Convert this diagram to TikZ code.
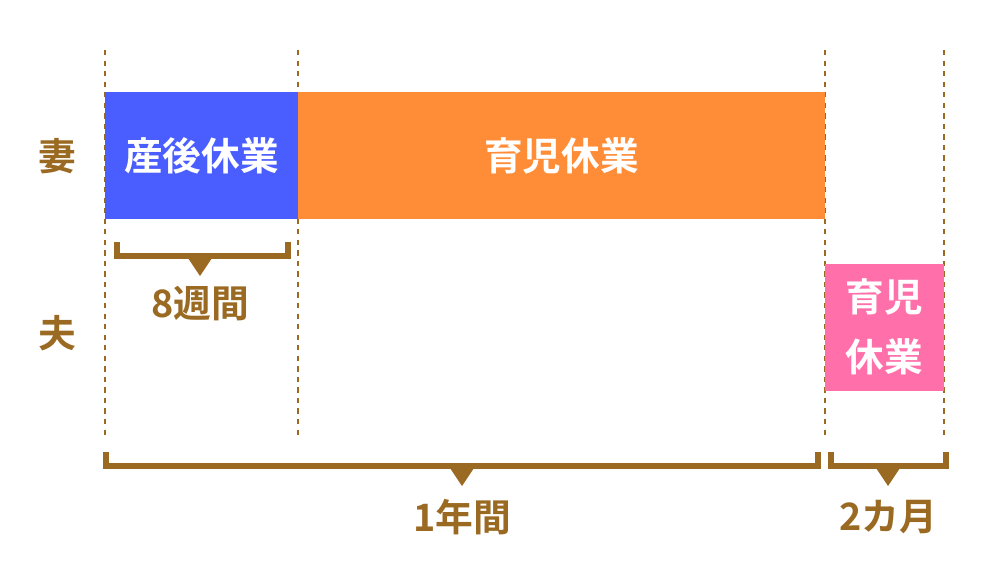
\documentclass[tikz,border=0pt]{standalone}
\usepackage{fontspec}
\setmainfont{Noto Sans CJK JP}[BoldFont={Noto Sans CJK JP Bold}]
\definecolor{brn}{HTML}{9A6A22}
\definecolor{blu}{HTML}{4A5EFF}
\definecolor{org}{HTML}{FF8D38}
\definecolor{pnk}{HTML}{FF6FA9}
\usetikzlibrary{positioning}
\tikzset{
  guide/.style={brn, dashed, line width=0.8pt},
  bar/.style={draw=none, text=white, font=\bfseries\fontsize{22}{28}\selectfont},
  brace/.style={brn, line width=3pt},
  tip/.style={fill=brn, draw=none},
  lbl/.style={text=brn, font=\bfseries\fontsize{21.5}{24}\selectfont}
}
\begin{document}
\begin{tikzpicture}[x=0.02cm, y=-0.02cm]
\useasboundingbox (0,0) rectangle (1000,582);
% guides
\foreach \gx in {105,298,825,944}
  \draw[guide] (\gx,50) -- (\gx,438);
% bars
\fill[blu] (105,92) rectangle (298,219);
\fill[org] (298,92) rectangle (825,219);
\fill[pnk] (825,264) rectangle (944,391);
\node[bar] (postnatal) at (201.5,156) {産後休業};
\node[bar] (wifeleave) at (561.5,156) {育児休業};
\node[bar, align=center, font=\bfseries\fontsize{22}{34}\selectfont] (husbleave) at (884.5,327) {育児\\休業};
% rows
\node[lbl] (wife) at (57,156) {妻};
\node[lbl] (husband) at (57,333) {夫};
% brackets
\draw[brace] (117,242) -- (117,256) -- (288,256) -- (288,242);
\fill[tip] (186,255) -- (214,255) -- (200,276) -- cycle;
\node[lbl] (eightweeks) at (200,304) {8週間};
\draw[brace] (106,452) -- (106,466) -- (818,466) -- (818,452);
\fill[tip] (448,465) -- (476,465) -- (462,486) -- cycle;
\node[lbl] (oneyear) at (462,517) {1年間};
\draw[brace] (831,452) -- (831,466) -- (946,466) -- (946,452);
\fill[tip] (874,465) -- (902,465) -- (888,486) -- cycle;
\node[lbl] (twomonths) at (888,517) {2カ月};
\end{tikzpicture}
\end{document}
